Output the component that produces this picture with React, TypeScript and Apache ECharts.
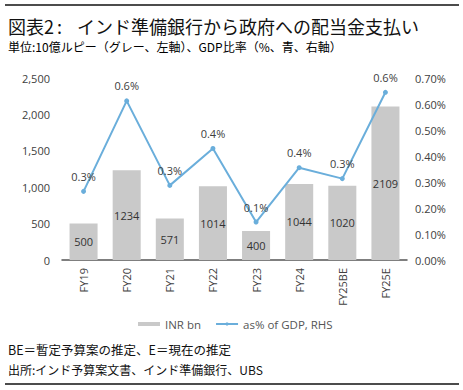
import React, { useEffect, useRef } from "react";
import * as echarts from "echarts";

const categories = ["FY19", "FY20", "FY21", "FY22", "FY23", "FY24", "FY25BE", "FY25E"];
const inrBn = [500, 1234, 571, 1014, 400, 1044, 1020, 2109];
const gdpPct = [0.264, 0.612, 0.287, 0.429, 0.146, 0.355, 0.313, 0.645];

const titleLead = "図表2";
const titleColon = ":";
const titleText = "インド準備銀行から政府への配当金支払い";
const subtitleText = "単位:10億ルピー（グレー、左軸）、GDP比率（%、青、右軸）";
const note1 = "BE＝暫定予算案の推定、E＝現在の推定";
const note2 = "出所:インド予算案文書、インド準備銀行、UBS";

const CJK = '"Noto Sans CJK JP", "Noto Sans", sans-serif';
const LAT = '"Open Sans", "Noto Sans", sans-serif';

export default function App() {
  const ref = useRef<HTMLDivElement>(null);
  useEffect(() => {
    document.body.style.margin = "0";
    const chart = echarts.init(ref.current!, undefined, { renderer: "svg" });
    chart.setOption({
      animation: false,
      backgroundColor: "#ffffff",
      grid: { left: 62, right: 56, top: 78, bottom: 130, containLabel: false },
      graphic: [
        { type: "line", shape: { x1: 5, y1: 5, x2: 459, y2: 5 }, style: { stroke: "#111", lineWidth: 1.5 } },
        { type: "text", x: 8, y: 26, style: { text: titleLead, font: `18px ${CJK}`, fill: "#111", textVerticalAlign: "middle" } },
        { type: "text", x: 57, y: 26, style: { text: titleColon, font: `18px ${CJK}`, fill: "#111", textVerticalAlign: "middle" } },
        { type: "text", x: 77, y: 26, style: { text: titleText, font: `18px ${CJK}`, fill: "#111", textVerticalAlign: "middle" } },
        { type: "text", x: 8, y: 46, style: { text: subtitleText, font: `12px ${CJK}`, fill: "#000", textVerticalAlign: "middle" } },
        { type: "text", x: 8, y: 349, style: { text: note1, font: `12.5px ${CJK}`, fill: "#111", textVerticalAlign: "middle" } },
        { type: "text", x: 8, y: 369, style: { text: note2, font: `12px ${CJK}`, fill: "#111", textVerticalAlign: "middle" } },
        { type: "line", shape: { x1: 5, y1: 384, x2: 459, y2: 384 }, style: { stroke: "#111", lineWidth: 1.5 } },
      ],
      legend: {
        left: 138,
        top: 318,
        padding: 0,
        itemGap: 14,
        itemWidth: 22,
        itemHeight: 4,
        textStyle: { fontFamily: LAT, fontSize: 11.5, color: "#555" },
        data: [
          { name: "INR bn", icon: "rect" },
          { name: "as% of GDP, RHS" },
        ],
      },
      xAxis: {
        type: "category",
        data: categories,
        axisLine: { lineStyle: { color: "#555", width: 1.5 } },
        axisTick: { show: false },
        axisLabel: { rotate: 90, margin: 8, fontFamily: LAT, fontSize: 11, color: "#404040" },
      },
      yAxis: [
        {
          type: "value",
          min: 0,
          max: 2500,
          interval: 500,
          splitLine: { show: false },
          axisLine: { show: false },
          axisTick: { show: false },
          axisLabel: {
            margin: 12,
            fontFamily: LAT,
            fontSize: 11,
            color: "#404040",
            formatter: (v: number) => v.toLocaleString("en-US"),
          },
        },
        {
          type: "value",
          min: 0,
          max: 0.7,
          interval: 0.1,
          splitLine: { show: false },
          axisLine: { show: false },
          axisTick: { show: false },
          axisLabel: {
            margin: 8,
            fontFamily: LAT,
            fontSize: 11,
            color: "#404040",
            formatter: (v: number) => v.toFixed(2) + "%",
          },
        },
      ],
      series: [
        {
          name: "INR bn",
          type: "bar",
          data: inrBn,
          barCategoryGap: "35%",
          itemStyle: { color: "#c9c9c9" },
          label: { show: true, position: "inside", fontFamily: LAT, fontSize: 11, color: "#333" },
        },
        {
          name: "as% of GDP, RHS",
          type: "line",
          yAxisIndex: 1,
          data: gdpPct,
          symbol: "circle",
          symbolSize: 5,
          lineStyle: { color: "#6aaedb", width: 2 },
          itemStyle: { color: "#6aaedb" },
          label: {
            show: true,
            position: "top",
            distance: 7,
            fontFamily: LAT,
            fontSize: 11,
            color: "#404040",
            formatter: (p: any) => p.value.toFixed(1) + "%",
          },
        },
      ],
    });
    return () => chart.dispose();
  }, []);
  return <div ref={ref} style={{ width: 463, height: 390 }} />;
}
